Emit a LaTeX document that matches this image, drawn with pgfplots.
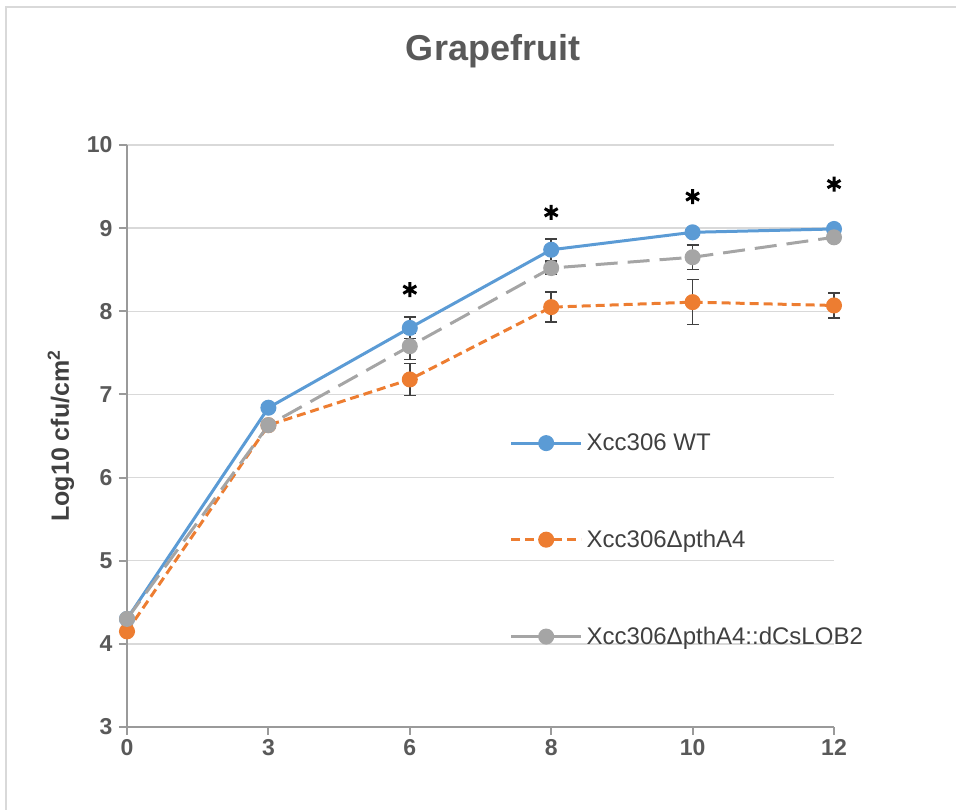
\documentclass[border=0pt]{standalone}
\usepackage{pgfplots}
\pgfplotsset{compat=1.18}
\usepackage{pgfplotstable}
\usepackage{fontspec}
\setmainfont{Liberation Sans}
\definecolor{cblue}{HTML}{5B9BD5}
\definecolor{corange}{HTML}{ED7D31}
\definecolor{cgray}{HTML}{A5A5A5}
\definecolor{ctext}{HTML}{595959}
\definecolor{cdark}{HTML}{404040}
\definecolor{cgrid}{HTML}{D9D9D9}
\definecolor{caxis}{HTML}{9A9A9A}

\pgfplotstableread{
x  wt    wte   mu    mue   co    coe
0  4.30  0.00  4.15  0.00  4.30  0.00
1  6.84  0.03  6.63  0.03  6.63  0.03
2  7.80  0.13  7.18  0.19  7.58  0.16
3  8.74  0.13  8.05  0.18  8.52  0.07
4  8.95  0.02  8.11  0.27  8.65  0.15
5  8.99  0.02  8.07  0.15  8.89  0.02
}\datatab

\pgfplotstableread{
x  y
2  8.26
3  9.19
4  9.38
5  9.53
}\startab

\begin{document}
\begin{tikzpicture}
\useasboundingbox (0,0) rectangle (956bp,810bp);
\draw[cgrid, line width=2bp] (6bp,0) -- (6bp,803bp) -- (956bp,803bp);
\node[anchor=base, font=\fontsize{36bp}{40bp}\selectfont\bfseries, text=ctext] at (493bp,749bp) {Grapefruit};
\begin{axis}[
  at={(127bp,83bp)}, anchor=south west,
  scale only axis, width=707bp, height=582bp,
  xmin=0, xmax=5, ymin=3, ymax=10,
  clip=false,
  axis lines*=left,
  axis line style={caxis, line width=2bp},
  xtick={0,1,2,3,4,5},
  xticklabels={0,3,6,8,10,12},
  ytick={3,4,5,6,7,8,9,10},
  tick align=outside,
  major tick length=8bp,
  tick style={caxis, line width=2bp},
  ymajorgrids,
  grid style={cgrid, line width=1.5bp},
  /pgf/number format/assume math mode=true,
  ticklabel style={font=\fontsize{23bp}{25bp}\selectfont\bfseries, text=ctext},
  yticklabel style={xshift=-3bp},
  xticklabel style={yshift=-1bp},
  ylabel={Log10 cfu/cm\textsuperscript{2}},
  ylabel style={at={(axis description cs:-0.0934,0.5)}, anchor=center,
    font=\fontsize{25bp}{28bp}\selectfont\bfseries, text=cdark},
  legend style={draw=none, fill=none, at={(0.541,0.3213)}, anchor=west,
    font=\fontsize{24bp}{27bp}\selectfont, text=cdark, row sep=70bp,
    inner sep=0pt, nodes={inner sep=4bp}},
  legend cell align=left,
  legend image code/.code={\draw[mark repeat=2,mark phase=2,#1] plot coordinates {(0bp,0bp) (35bp,0bp) (70bp,0bp)};},
  error bars/error bar style={cdark, line width=1.5bp, solid},
  error bars/error mark options={rotate=90, mark size=6bp, cdark, line width=1.5bp, solid},
]
\addplot[cblue, line width=3bp, mark=*, mark size=6.5bp, mark options={solid, fill=cblue, draw=cblue},
  error bars/.cd, y dir=both, y explicit] table[x=x, y=wt, y error=wte] {\datatab};
\addlegendentry{Xcc306 WT}
\addplot[corange, line width=3bp, dash pattern=on 9bp off 5bp, mark=*, mark size=6.5bp, mark options={solid, fill=corange, draw=corange},
  error bars/.cd, y dir=both, y explicit] table[x=x, y=mu, y error=mue] {\datatab};
\addlegendentry{Xcc306Δ{}pthA4}
\addlegendimage{cgray, line width=3bp, solid, mark=*, mark size=6.5bp, mark options={solid, fill=cgray, draw=cgray}}
\addlegendentry{Xcc306Δ{}pthA4::dCsLOB2}
\addplot[forget plot, cgray, line width=3bp, dash pattern=on 22bp off 10bp, mark=*, mark size=6.5bp, mark options={solid, fill=cgray, draw=cgray},
  error bars/.cd, y dir=both, y explicit] table[x=x, y=co, y error=coe] {\datatab};
\addplot[forget plot, only marks, mark=asterisk, mark size=7.5bp, mark options={black, line width=3bp}] table[x=x, y=y] {\startab};
\end{axis}
\end{tikzpicture}
\end{document}
